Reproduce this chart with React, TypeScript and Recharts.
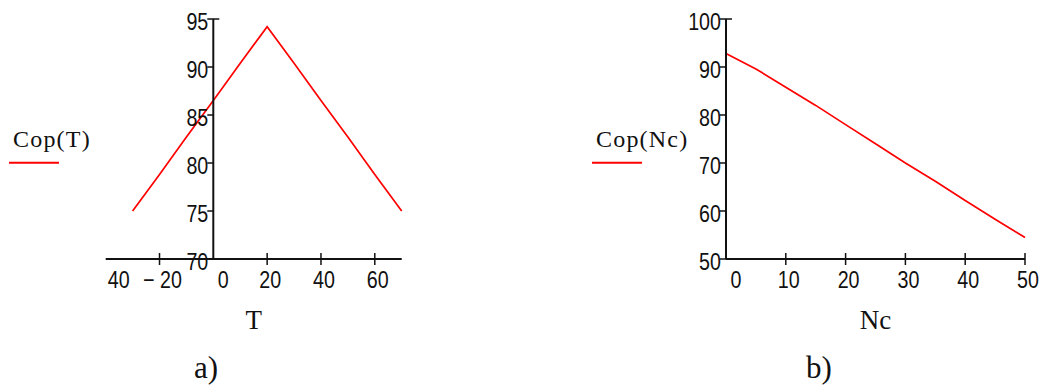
import { LineChart, Line, XAxis, YAxis, Legend } from "recharts"

// a) Cop as a function of T
const tempValues = [-30, -20, -10, 0, 10, 20, 30, 40, 50, 60, 70]
const copByTemp = [75.0, 78.8, 82.7, 86.5, 90.4, 94.2, 90.4, 86.5, 82.7, 78.8, 75.0]
const tempTicks = [-40, -20, 0, 20, 40, 60]
const tempTickLabels = ["40", "− 20", "0", "20", "40", "60"]
const copTempTicks = [70, 75, 80, 85, 90, 95]

// b) Cop as a function of Nc
const ncValues = [0, 5, 10, 15, 20, 25, 30, 35, 40, 45, 50]
const copByNc = [92.8, 89.6, 85.8, 82.0, 78.0, 74.0, 70.0, 66.2, 62.2, 58.3, 54.5]
const ncTicks = [0, 10, 20, 30, 40, 50]
const ncTickLabels = ["0", "10", "20", "30", "40", "50"]
const copNcTicks = [50, 60, 70, 80, 90, 100]

const tempData = tempValues.map((t, i) => ({ t, cop: copByTemp[i] }))
const ncData = ncValues.map((nc, i) => ({ nc, cop: copByNc[i] }))

const NUM_FONT = "'Liberation Sans', Arial, sans-serif"
const SERIF = "'Liberation Serif', 'Times New Roman', serif"
const W = 1044
const H = 385
const INK = "#111"
const AXIS = { stroke: INK, strokeWidth: 2 }

const layer: React.CSSProperties = { position: "absolute", left: 0, top: 0 }

// narrow digits, like the original plot
function Num({ x, y, anchor, children }: { x: number; y: number; anchor: "start" | "middle" | "end"; children: any }) {
  return (
    <text
      transform={`translate(${x},${y}) scale(0.82,1)`}
      textAnchor={anchor}
      fontFamily={NUM_FONT}
      fontSize={24}
      fill={INK}
    >
      {children}
    </text>
  )
}

function makeXTick(ticks: number[], labels: string[], firstLeft: boolean) {
  return (props: any) => {
    const { x, y, payload } = props
    const idx = ticks.indexOf(payload.value)
    const label = labels[idx] ?? String(payload.value)
    const isZero = payload.value === 0
    const isFirst = idx === 0
    let tx = x + 3
    let anchor: "start" | "middle" = "middle"
    if (isZero) tx = x + 10
    if (isFirst && firstLeft) {
      tx = x + 2
      anchor = "start"
    }
    return (
      <g>
        {!isZero && !(isFirst && firstLeft) && (
          <line x1={x} x2={x} y1={y - 6} y2={y + 6} stroke={INK} strokeWidth={1.5} />
        )}
        <Num x={tx} y={y + 29} anchor={anchor}>
          {label}
        </Num>
      </g>
    )
  }
}

function makeYTick(top: number) {
  return (props: any) => {
    const { x, y, payload } = props
    return (
      <g>
        <line x1={x - 6} x2={payload.value === top ? x + 6 : x} y1={y} y2={y} stroke={INK} strokeWidth={1.5} />
        <Num x={x - 5} y={y + 11} anchor="end">
          {payload.value}
        </Num>
      </g>
    )
  }
}

function LegendKey(props: any) {
  const item = props.payload?.[0]
  if (!item) return null
  return (
    <svg width={120} height={45} style={{ display: "block" }}>
      <text x={4} y={21.5} fontFamily={SERIF} fontSize={24} letterSpacing={1.2} fill={INK}>
        {item.value}
      </text>
      <line x1={0} x2={50} y1={37.7} y2={37.7} stroke={item.color} strokeWidth={2} />
    </svg>
  )
}

const axisTitle = (value: string) => ({
  value,
  position: "bottom" as const,
  offset: 11,
  fontFamily: SERIF,
  fontSize: 27,
  fill: INK,
})

export default function App() {
  return (
    <div style={{ position: "absolute", left: 0, top: 0, width: W, height: H, background: "#fff" }}>
      {/* a) line and horizontal axis */}
      <div style={layer}>
        <LineChart width={W} height={H} data={tempData} margin={{ left: 105.7, right: W - 401.7, top: 19, bottom: 86 }}>
          <XAxis
            dataKey="t"
            type="number"
            domain={[-40, 70]}
            ticks={tempTicks}
            interval={0}
            height={40}
            axisLine={AXIS}
            tickLine={false}
            tickSize={0}
            tickMargin={0}
            tick={makeXTick(tempTicks, tempTickLabels, true)}
            label={axisTitle("T")}
          />
          <YAxis hide type="number" domain={[70, 95]} />
          <Legend
            layout="horizontal"
            align="center"
            verticalAlign="middle"
            content={<LegendKey />}
            wrapperStyle={{ left: 9, top: 125, width: 120, height: 45 }}
          />
          <Line type="linear" dataKey="cop" name="Cop(T)" stroke="#ff0000" strokeWidth={1.7} dot={false} isAnimationActive={false} />
        </LineChart>
      </div>

      {/* a) vertical axis crossing at T = 0 */}
      <div style={{ ...layer, pointerEvents: "none" }}>
        <LineChart width={W} height={H} data={tempData} margin={{ left: 213.3 - 60, right: W - 401.7, top: 19, bottom: 126 }}>
          <XAxis hide dataKey="t" type="number" domain={[0, 70]} allowDataOverflow />
          <YAxis
            type="number"
            domain={[70, 95]}
            ticks={copTempTicks}
            interval={0}
            width={60}
            axisLine={AXIS}
            tickLine={false}
            tickSize={0}
            tickMargin={0}
            tick={makeYTick(95)}
          />
          <Line type="linear" dataKey="cop" stroke="transparent" dot={false} activeDot={false} legendType="none" isAnimationActive={false} />
        </LineChart>
      </div>

      {/* b) */}
      <div style={layer}>
        <LineChart width={W} height={H} data={ncData} margin={{ left: 726 - 60, right: W - 1025, top: 19, bottom: 86 }}>
          <XAxis
            dataKey="nc"
            type="number"
            domain={[0, 50]}
            ticks={ncTicks}
            interval={0}
            height={40}
            axisLine={AXIS}
            tickLine={false}
            tickSize={0}
            tickMargin={0}
            tick={makeXTick(ncTicks, ncTickLabels, false)}
            label={axisTitle("Nc")}
          />
          <YAxis
            type="number"
            domain={[50, 100]}
            ticks={copNcTicks}
            interval={0}
            width={60}
            axisLine={AXIS}
            tickLine={false}
            tickSize={0}
            tickMargin={0}
            tick={makeYTick(100)}
          />
          <Legend
            layout="horizontal"
            align="center"
            verticalAlign="middle"
            content={<LegendKey />}
            wrapperStyle={{ left: 592, top: 125, width: 120, height: 45 }}
          />
          <Line type="linear" dataKey="cop" name="Cop(Nc)" stroke="#ff0000" strokeWidth={1.7} dot={false} isAnimationActive={false} />
        </LineChart>
      </div>

      <div style={{ position: "absolute", left: 194, top: 352, fontFamily: SERIF, fontSize: 31, lineHeight: 1, color: INK }}>a)</div>
      <div style={{ position: "absolute", left: 806, top: 352, fontFamily: SERIF, fontSize: 31, lineHeight: 1, color: INK }}>b)</div>
    </div>
  )
}
